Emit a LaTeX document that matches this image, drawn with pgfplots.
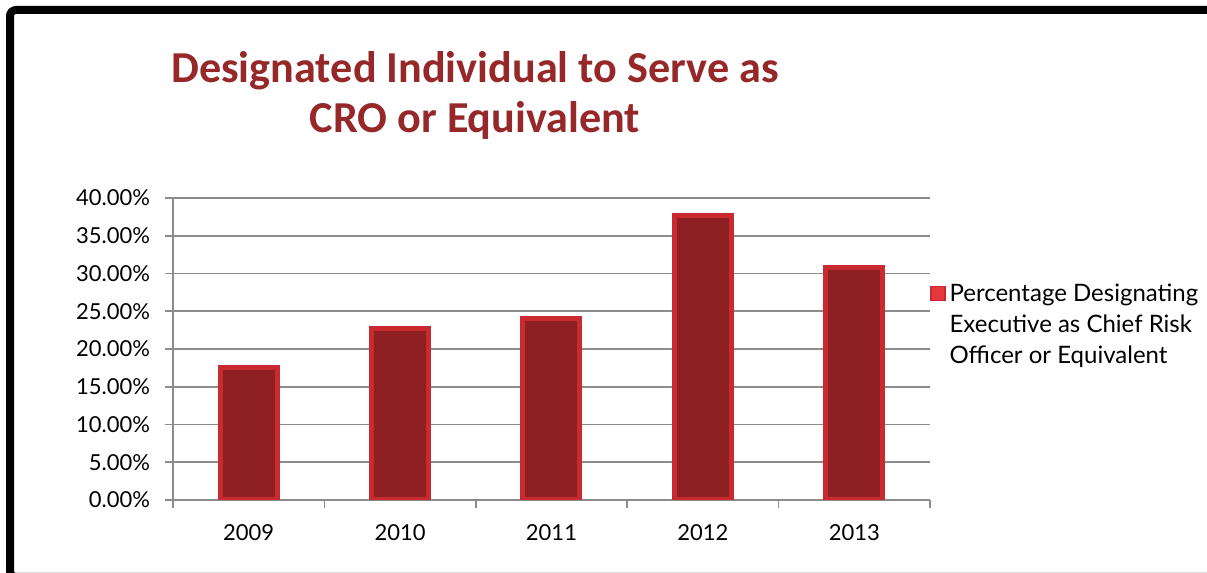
\documentclass[border=0pt]{standalone}
\usepackage{fontspec}
\setmainfont{Lato}
\newfontfamily\titlefont{Carlito}
\usepackage{pgfplots}
\pgfplotsset{compat=1.18}
\definecolor{barfill}{RGB}{142,32,36}
\definecolor{baredge}{RGB}{200,42,48}
\definecolor{legfill}{RGB}{228,56,62}
\definecolor{titlered}{RGB}{150,40,42}
\definecolor{gridgray}{RGB}{140,140,140}
\begin{document}
\begin{tikzpicture}
\useasboundingbox (0,0) rectangle (603.5pt,286.5pt);
\begin{scope}
\clip (0,0) rectangle (603.5pt,286.5pt);
\draw[line width=4pt, rounded corners=3pt] (5pt,-2pt) -- (5pt,281.5pt) -- (615pt,281.5pt) -- (615pt,-2pt) -- cycle;
\end{scope}
\node[font=\titlefont\bfseries\fontsize{22.1}{25}\selectfont, text=titlered, align=center] at (237.5pt,239pt)
  {Designated Individual to Serve as\\CRO or Equivalent};
\begin{axis}[
  at={(86.5pt,36.5pt)}, anchor=south west,
  scale only axis, width=378.5pt, height=151pt,
  ymin=0, ymax=40, xmin=-0.5, xmax=4.5,
  ytick={0,5,...,40},
  yticklabel={\pgfmathprintnumber[fixed,fixed zerofill,precision=2]{\tick}\%},
  /pgf/number format/assume math mode=true,
  xtick={0,1,2,3,4},
  xticklabels={2009,2010,2011,2012,2013},
  minor xtick={-0.5,0.5,1.5,2.5,3.5,4.5},
  major x tick style={draw=none},
  tick align=outside,
  major tick length=4pt, minor tick length=4pt,
  axis x line*=bottom, axis y line*=left,
  axis line style={gridgray, line width=0.8pt, -},
  every tick/.style={gridgray, line width=0.8pt},
  ymajorgrids, major grid style={gridgray, line width=0.8pt},
  tick label style={font=\fontsize{11}{13}\selectfont},
  xticklabel style={yshift=-4.5pt},
  yticklabel style={xshift=-4pt},
  legend style={at={(1.0,0.73)}, anchor=north west, draw=none, fill=none,
    font=\fontsize{12}{15.5}\selectfont, cells={align=left}, inner sep=0pt,
    row sep=0pt},
  legend image code/.code={\draw[fill=legfill, draw=baredge, line width=0.6pt] (0pt,12.3pt) rectangle (7pt,19.3pt);},
  legend cell align=left,
]
\addplot[ybar, bar width=28.5pt, fill=barfill, draw=baredge, line width=2.5pt]
  coordinates {(0,17.6) (1,22.7) (2,24.1) (3,37.7) (4,30.8)};
\addlegendentry{Percentage Designating\\Executive as Chief Risk\\Officer or Equivalent}
\end{axis}
\end{tikzpicture}
\end{document}
